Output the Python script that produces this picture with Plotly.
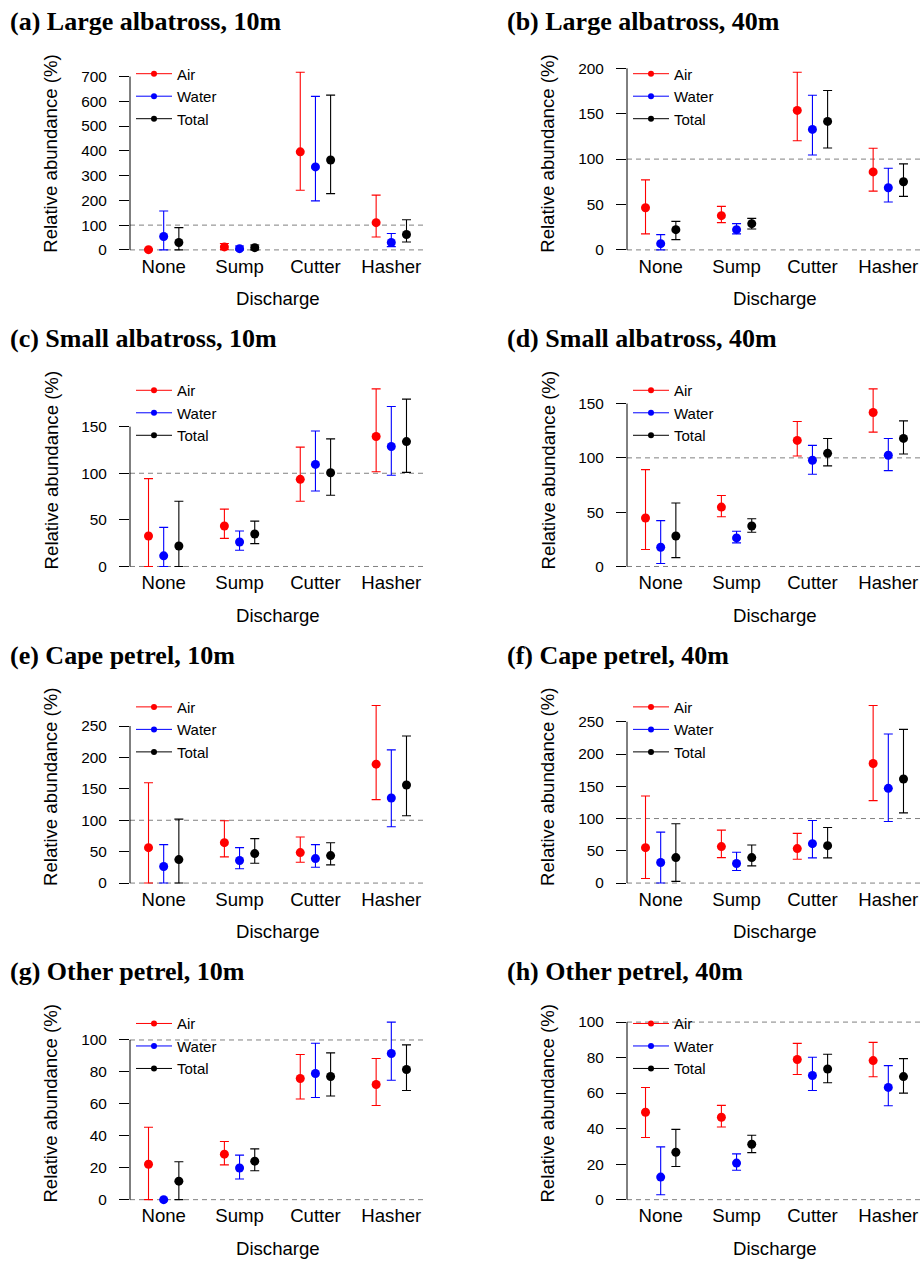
import plotly.graph_objects as go

# ---------------- data ----------------
categories = ["None", "Sump", "Cutter", "Hasher"]
series = ["Air", "Water", "Total"]
series_colors = ["#FF0000", "#0000FF", "#000000"]
panel_titles = [
    "(a) Large albatross, 10m", "(b) Large albatross, 40m",
    "(c) Small albatross, 10m", "(d) Small albatross, 40m",
    "(e) Cape petrel, 10m", "(f) Cape petrel, 40m",
    "(g) Other petrel, 10m", "(h) Other petrel, 40m",
]
tick_steps = [100, 50, 50, 50, 50, 50, 20, 20]
x_label = "Discharge"
y_label = "Relative abundance (%)"
reference_lines = [0, 100]

# each list: [Air], [Water], [Total] across None, Sump, Cutter, Hasher
A_MEAN = [[1, 12, 396, 110], [54, 5, 335, 30], [30, 9, 363, 62]]
A_LOW = [[0, 1, 241, 52], [0, 0, 198, 13], [0, 0, 227, 32]]
A_HIGH = [[3, 26, 717, 221], [157, 16, 620, 66], [90, 20, 625, 122]]

B_MEAN = [[46.4, 37.7, 153.6, 85.9], [6.9, 22.3, 132.7, 68.4], [22.3, 28.9, 141.5, 75.0]]
B_LOW = [[17.6, 30.0, 120.3, 64.7], [0.0, 17.6, 104.6, 52.7], [11.3, 23.0, 112.3, 58.9]]
B_HIGH = [[77.1, 47.9, 195.6, 111.9], [16.8, 28.9, 170.4, 90.0], [31.4, 34.7, 175.5, 94.7]]

C_MEAN = [[32.7, 43.4, 93.5, 139.4], [11.4, 26.3, 109.5, 128.7], [22.0, 34.8, 100.6, 134.0]]
C_LOW = [[0.0, 30.2, 70.0, 101.7], [0.0, 17.4, 81.0, 97.8], [0.0, 24.5, 76.4, 101.0]]
C_HIGH = [[94.2, 61.5, 128.0, 190.5], [41.9, 38.0, 145.4, 171.7], [70.0, 48.7, 136.9, 179.5]]

D_MEAN = [[44.6, 54.7, 116.1, 141.8], [17.7, 26.3, 97.8, 102.4], [28.1, 37.3, 104.2, 117.9]]
D_LOW = [[15.6, 45.8, 101.7, 123.7], [2.7, 21.7, 84.9, 88.3], [8.2, 31.5, 92.6, 103.6]]
D_HIGH = [[89.2, 65.4, 133.5, 163.5], [42.2, 32.4, 111.5, 117.9], [58.4, 44.0, 117.9, 134.1]]

E_MEAN = [[56.4, 64.3, 48.5, 189.3], [26.4, 35.9, 39.0, 135.5], [37.4, 46.9, 43.8, 156.1]]
E_LOW = [[0.0, 41.7, 33.2, 132.9], [0.0, 22.7, 25.3, 89.7], [0.0, 31.6, 29.0, 107.1]]
E_HIGH = [[159.8, 99.2, 73.3, 282.7], [61.2, 56.4, 61.2, 212.0], [101.8, 70.7, 64.3, 234.2]]

F_MEAN = [[54.9, 56.5, 53.4, 185.3], [31.8, 30.3, 61.1, 146.8], [39.5, 39.5, 58.0, 161.2]]
F_LOW = [[7.2, 39.5, 37.0, 127.8], [0.0, 19.5, 39.0, 95.5], [2.6, 26.7, 39.0, 108.8]]
F_HIGH = [[135.0, 82.1, 77.0, 275.2], [79.0, 47.7, 97.0, 231.0], [91.9, 59.0, 86.2, 238.2]]

G_MEAN = [[22.2, 28.5, 75.9, 72.1], [0.0, 19.8, 79.0, 91.5], [11.6, 24.1, 77.1, 81.5]]
G_LOW = [[0.0, 21.8, 63.0, 59.0], [0.0, 12.9, 64.0, 74.8], [0.0, 18.1, 64.9, 68.4]]
G_HIGH = [[45.3, 36.4, 90.9, 88.4], [0.0, 27.9, 97.9, 111.2], [23.7, 31.8, 91.9, 96.9]]

H_MEAN = [[49.2, 46.4, 78.9, 78.3], [12.7, 20.6, 69.9, 63.2], [26.7, 31.2, 73.6, 69.3]]
H_LOW = [[35.0, 40.9, 70.5, 69.2], [2.8, 16.6, 61.5, 52.9], [18.7, 26.5, 65.8, 60.0]]
H_HIGH = [[63.2, 53.1, 88.0, 88.6], [29.7, 25.8, 80.2, 75.5], [39.6, 36.3, 81.9, 79.4]]

panels = [
    (A_MEAN, A_LOW, A_HIGH), (B_MEAN, B_LOW, B_HIGH),
    (C_MEAN, C_LOW, C_HIGH), (D_MEAN, D_LOW, D_HIGH),
    (E_MEAN, E_LOW, E_HIGH), (F_MEAN, F_LOW, F_HIGH),
    (G_MEAN, G_LOW, G_HIGH), (H_MEAN, H_LOW, H_HIGH),
]

# ---------------- layout geometry (page pixels) ----------------
W, H = 921, 1263
SANS = "Liberation Sans, Arial, Helvetica, sans-serif"
SERIF = "Liberation Serif, Times New Roman, serif"
series_offsets = [-0.2, 0.0, 0.2]
XLIM = (0.7, 4.3)
ext = 0.04 * (XLIM[1] - XLIM[0])
XR = (XLIM[0] - ext, XLIM[1] + ext)
PLOT_W = 295.0
col_left = [130.0, 627.0]
row_step = 318.1
row_top0, row_bot0 = 60.5, 253.2


def px_x(px):
    return px / W


def px_y(py):
    return 1 - py / H


fig = go.Figure()
layout = dict(
    width=W, height=H, autosize=False,
    margin=dict(l=0, r=0, t=0, b=0),
    paper_bgcolor="white", plot_bgcolor="white",
    showlegend=True, shapes=[], annotations=[], hovermode=False,
)

for p, (means, lows, highs) in enumerate(panels):
    n = p + 1
    sfx = "" if n == 1 else str(n)
    col, row = p % 2, p // 2
    xa, ya = "x" + sfx, "y" + sfx
    leg = "legend" + sfx
    dy = row * row_step

    left = col_left[col]
    right = min(left + PLOT_W, W)
    xr_hi = XR[0] + (right - left) / PLOT_W * (XR[1] - XR[0])
    top = row_top0 + dy
    bot = row_bot0 + dy

    ymax = max([100] + [v for s in highs for v in s])
    ylo, yhi = -0.04 * ymax, 1.04 * ymax
    step = tick_steps[p]
    last_tick = int(yhi // step) * step

    layout["xaxis" + sfx] = dict(
        domain=[px_x(left), px_x(right)], range=[XR[0], xr_hi], anchor=ya,
        tickmode="array", tickvals=[i + 1 for i in range(len(categories))],
        ticktext=categories, ticks="", showline=False, showgrid=False,
        zeroline=False, tickfont=dict(family=SANS, size=18.6, color="black"),
        ticklabelstandoff=-4, fixedrange=True,
    )
    layout["yaxis" + sfx] = dict(
        domain=[px_y(bot), px_y(top)], range=[ylo, yhi], anchor=xa,
        tick0=0, dtick=step, ticks="outside", ticklen=10, tickwidth=1,
        tickcolor="black", showline=False, showgrid=False, zeroline=False,
        tickfont=dict(family=SANS, size=15.4, color="black"),
        ticklabelstandoff=9, fixedrange=True,
    )

    for yv in reference_lines:
        layout["shapes"].append(dict(
            type="line", xref=xa + " domain", yref=ya, x0=0, x1=1, y0=yv, y1=yv,
            line=dict(color="#808080", width=1, dash="5px,4px"), layer="below"))
    layout["shapes"].append(dict(
        type="line", xref=xa + " domain", yref=ya, x0=0, x1=0, y0=0, y1=last_tick,
        line=dict(color="black", width=1)))

    for s, name in enumerate(series):
        xs = [i + 1 + series_offsets[s] for i in range(len(categories))]
        m, lo, hi = means[s], lows[s], highs[s]
        fig.add_trace(go.Scatter(
            x=xs, y=m, mode="markers", xaxis=xa, yaxis=ya, showlegend=False,
            marker=dict(color=series_colors[s], size=9),
            error_y=dict(type="data", symmetric=False,
                         array=[h - v for h, v in zip(hi, m)],
                         arrayminus=[v - l for v, l in zip(m, lo)],
                         width=4.5, thickness=1.1, color=series_colors[s]),
            cliponaxis=False, hoverinfo="skip",
        ))
        fig.add_trace(go.Scatter(
            x=[None], y=[None], mode="lines+markers", name=name,
            xaxis=xa, yaxis=ya, legend=leg, showlegend=True,
            line=dict(color=series_colors[s], width=1),
            marker=dict(color=series_colors[s], size=6),
        ))

    layout[leg] = dict(
        x=px_x(left + 1), y=px_y(52.7 + dy), xanchor="left", yanchor="top",
        bgcolor="rgba(0,0,0,0)", borderwidth=0, tracegroupgap=0, itemwidth=36,
        itemclick=False, itemdoubleclick=False,
        font=dict(family=SANS, size=15, color="black"),
    )

    title_x = 8.2 if col == 0 else 504.5
    layout["annotations"].append(dict(
        text="<b>" + panel_titles[p] + "</b>", xref="paper", yref="paper",
        x=px_x(title_x), y=px_y(17.0 + dy), xanchor="left", yanchor="middle",
        showarrow=False, font=dict(family=SERIF, size=26, color="black")))
    layout["annotations"].append(dict(
        text=y_label, xref="paper", yref="paper", textangle=-90,
        x=px_x(51 if col == 0 else 548), y=px_y(149.5 + dy),
        xanchor="center", yanchor="middle", showarrow=False,
        font=dict(family=SANS, size=18.6, color="black")))
    layout["annotations"].append(dict(
        text=x_label, xref="paper", yref="paper",
        x=px_x(278 if col == 0 else 775), y=px_y(295 + dy),
        xanchor="center", yanchor="middle", showarrow=False,
        font=dict(family=SANS, size=18.6, color="black")))

fig.update_layout(**layout)
fig.write_html(
    "out.html",
    config={"displayModeBar": False, "staticPlot": False},
    post_script="document.body.style.margin='0';document.body.style.overflow='hidden';",
)
